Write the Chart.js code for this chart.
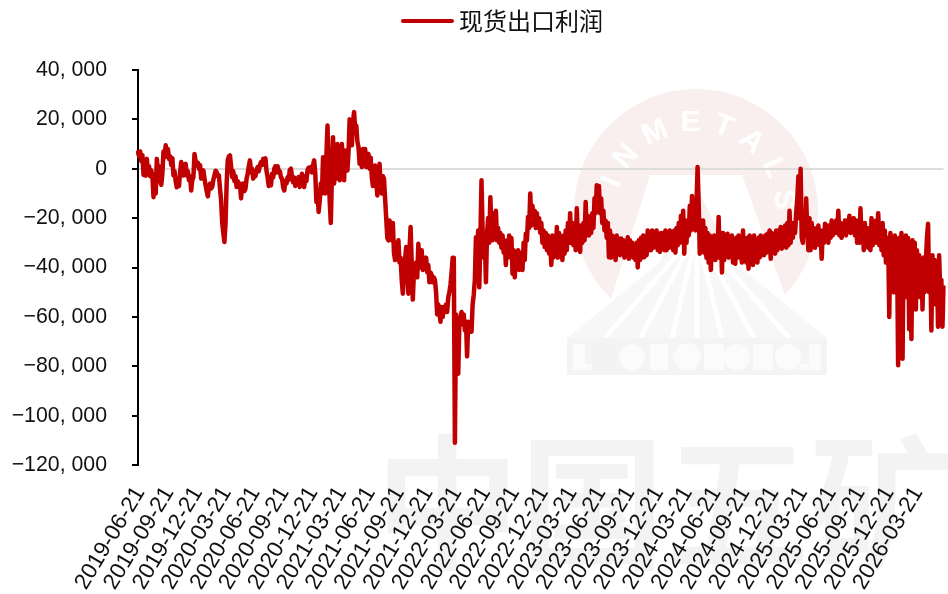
<!DOCTYPE html>
<html lang="zh">
<head>
<meta charset="utf-8">
<title>现货出口利润</title>
<script src="https://cdn.jsdelivr.net/npm/chart.js@4"></script>
<style>
html,body{margin:0;padding:0;background:#fff;}
#wrap{position:relative;width:948px;height:594px;overflow:hidden;}
#wm,#c{position:absolute;left:0;top:0;}
</style>
</head>
<body>
<div id="wrap">
<svg id="wm" width="948" height="594" viewBox="0 0 948 594">
  <circle cx="696" cy="211" r="122" fill="#F9EFEF"/>
  <polygon points="650,175 742,175 792,315 606,315" fill="#fff"/>
  <polygon points="697,188 738,270 656,270" fill="#F9EFEF"/>
  <path id="arc" d="M 626.7 251 A 80 80 0 1 1 765.3 251" fill="none"/>
  <text font-family="Liberation Sans" font-weight="700" font-size="30" fill="#fff" letter-spacing="11"><textPath href="#arc" startOffset="54.8%" text-anchor="middle">INMETALS</textPath></text>
  <polygon points="697,232 827,338 567,338" fill="#F7F7F7"/>
  <g stroke="#fff" stroke-width="5">
    <line x1="697" y1="232" x2="605" y2="338"/><line x1="697" y1="232" x2="640" y2="338"/>
    <line x1="697" y1="232" x2="672" y2="338"/><line x1="697" y1="232" x2="697" y2="338"/>
    <line x1="697" y1="232" x2="722" y2="338"/><line x1="697" y1="232" x2="754" y2="338"/>
    <line x1="697" y1="232" x2="789" y2="338"/>
  </g>
  <rect x="567" y="338" width="260" height="37" fill="#F4F4F4"/>
  <g fill="#FBFBFB">
    <path d="M573 344h12v20h10v6h-22z"/>
    <rect x="592" y="344" width="24" height="26" fill="#F1F1F1"/>
    <circle cx="632" cy="357" r="13"/>
    <rect x="650" y="344" width="18" height="26"/>
    <polygon points="672,357 680,344 694,344 702,357 694,370 680,370"/>
    <rect x="704" y="344" width="20" height="26"/>
    <circle cx="737" cy="357" r="13"/>
    <rect x="753" y="344" width="20" height="26"/>
    <circle cx="788" cy="357" r="13"/>
    <path d="M821 344h-12v20h-10v6h22z"/>
  </g>
  <text x="375" y="558" font-family="Noto Sans CJK SC" font-weight="700" font-size="145" fill="#F3F3F3">中国五矿</text>
</svg>
<canvas id="c" width="948" height="594"></canvas>
</div>
<script>
const seriesName = '现货出口利润';
const tickLabels = ['2019-06-21','2019-09-21','2019-12-21','2020-03-21','2020-06-21','2020-09-21','2020-12-21',
  '2021-03-21','2021-06-21','2021-09-21','2021-12-21','2022-03-21','2022-06-21','2022-09-21','2022-12-21',
  '2023-03-21','2023-06-21','2023-09-21','2023-12-21','2024-03-21','2024-06-21','2024-09-21','2024-12-21',
  '2025-03-21','2025-06-21','2025-09-21','2025-12-21','2026-03-21'];
const pointsPerTick = 26;
const profit = [
  6700,5000,7000,3000,5500,-2500,1000,-2800,4000,-1500,1000,-3000,-700,-2700,-11500,-6000,-10000,4000,-1500,1000,-5000,-6500,-2000,7000,4500,9500,
  5500,8000,4000,5000,1500,4300,-2700,-1000,-5000,-7500,-5500,-7000,-1500,2700,0,-2700,1500,2000,-2700,-1000,-4700,-3000,-8800,-4500,-3400,6000,
  3000,1300,2500,0,1500,-4000,-1500,-700,-4000,-6700,-9000,-11200,-7500,-6000,-8000,-7400,-4500,-2700,-800,-1300,-3000,-2700,-8000,-12800,-22000,-26000,
  -29700,-22000,-6000,3400,5000,5400,1000,-3400,-1000,-5000,-3000,-7400,-5000,-7000,-6000,-12000,-7000,-6000,-9000,-8000,-4000,-2000,1000,3400,-1500,0,
  -4000,-2000,-3000,-700,700,-1000,1500,2700,1500,4000,3000,4200,-1000,-3500,-7000,-5500,-6700,-2000,-3500,0,1000,-1500,1000,-800,-1000,-3500,
  -4000,-7500,-8800,-5000,-6000,-3500,-4500,-500,0,-3000,-5500,-3500,-7000,-4000,-5500,-3400,-7400,-4000,-2000,-6000,-7400,-3000,-5000,-500,400,-1000,
  700,-1500,1500,3400,-2000,-13500,-9000,-17500,-13000,-6000,-10000,4700,-4000,-10000,5000,17500,3000,-13000,-22000,-3000,12800,-6000,9000,-4000,10000,2000,
  -4700,3000,10000,2000,-4700,7400,3000,-700,7000,20000,12000,9500,19000,23000,16000,17500,11000,8800,2000,6000,700,8000,2500,8000,700,5000,
  6000,0,4500,-3400,-7000,-2000,1300,-5000,-10800,-2000,2000,-7000,-10000,-3000,-4000,-12000,-20000,-28000,-29000,-21000,-24000,-29000,-22000,-34000,-37000,-30000,
  -34000,-29000,-38000,-36000,-45000,-50600,-41000,-37000,-31700,-42000,-50600,-33000,-23600,-38000,-53000,-42000,-44000,-38000,-44000,-30400,-38000,-40000,-33000,-41000,-36000,-39000,
  -36000,-42000,-39000,-46000,-42000,-43000,-46000,-44000,-45000,-50000,-59000,-55000,-58000,-62000,-56000,-60000,-56000,-58000,-55000,-58000,-52000,-50000,-47000,-42000,-36000,-36000,
  -111000,-59000,-72000,-83000,-63000,-60000,-58000,-63000,-59000,-65500,-62000,-76000,-62000,-66000,-63000,-66000,-55000,-51000,-45000,-27700,-36000,-25000,-48000,-28000,-4700,-25000,
  -36000,-28000,-46000,-26000,-20000,-30000,-11500,-25000,-29000,-18000,-28000,-17000,-29000,-24000,-30000,-26000,-32000,-27000,-34000,-30000,-39000,-29000,-36000,-27000,-33000,-28000,
  -42500,-33000,-44000,-36000,-40000,-33000,-41000,-34000,-37000,-41000,-30000,-37000,-26300,-29000,-19500,-24000,-10000,-23000,-15000,-22000,-17000,-24000,-18000,-23000,-20000,-26000,
  -22000,-30000,-25000,-31700,-26000,-33000,-27000,-34400,-29000,-39000,-27000,-36000,-29000,-35000,-23600,-36000,-26000,-35000,-29000,-37000,-27000,-34400,-25000,-33000,-22000,-30000,
  -18000,-30000,-22000,-31000,-23000,-33000,-16000,-30000,-23000,-33700,-23000,-30000,-22000,-29000,-13500,-27000,-19000,-27000,-21000,-26000,-18000,-24000,-12000,-18000,-6700,-15000,
  -7000,-18000,-12000,-22000,-17000,-25000,-21000,-28000,-22000,-35800,-25000,-36000,-27000,-35000,-29000,-37000,-27000,-33000,-28300,-35000,-28300,-34400,-29000,-36000,-30000,-35000,
  -27700,-36500,-29000,-35000,-30000,-36000,-31000,-37000,-30000,-40000,-29000,-37000,-28000,-36000,-27000,-35800,-29000,-35000,-25000,-33000,-27000,-33000,-25000,-32000,-26300,-31000,
  -25000,-33000,-27000,-33700,-26000,-32000,-26000,-33000,-25000,-33000,-26000,-32000,-25000,-31700,-26000,-33000,-25000,-34000,-24000,-31000,-22000,-30000,-19000,-27000,-17000,-34400,
  -21000,-30000,-21000,-27000,-15000,-25000,-11000,-22000,-18000,-25000,-15000,700,-14000,-34400,-21000,-32000,-21000,-34000,-24000,-36000,-26000,-38000,-27000,-41000,-28000,-36000,
  -27000,-37000,-28000,-36000,-19500,-36000,-26000,-42000,-26000,-37000,-27000,-34000,-26300,-36000,-28000,-34400,-27000,-38000,-29000,-38500,-28000,-36000,-27000,-36000,-29000,-38000,
  -25000,-37000,-29000,-38000,-28000,-40500,-27000,-38000,-29000,-39000,-27000,-37000,-29000,-38000,-28000,-36000,-27000,-35000,-28000,-35000,-27000,-34000,-26300,-33000,-25000,-36500,
  -26000,-34000,-27000,-34400,-25000,-33000,-25000,-32000,-23600,-32400,-24000,-31000,-23000,-32000,-22000,-31000,-17000,-30000,-22000,-28000,-22000,-26000,-18000,-12000,-3000,-20000,
  0,-28000,-30000,-18000,-27000,-12000,-25000,-33000,-20000,-33000,-22000,-31700,-24000,-32000,-25600,-30000,-23000,-31000,-25000,-36500,-25000,-30000,-22300,-28000,-23000,-30000,
  -23000,-28000,-21000,-27000,-22000,-26000,-21000,-26000,-17000,-27000,-22000,-28000,-23000,-26000,-21000,-27000,-21000,-25000,-19000,-26000,-21000,-25000,-20000,-27000,-21000,-30000,
  -23000,-30000,-16000,-28000,-23000,-33000,-22000,-30000,-24000,-32000,-25000,-33000,-20000,-31000,-22000,-30000,-21000,-30000,-18000,-31000,-24000,-33000,-22000,-35000,-25000,-38000,
  -37800,-28000,-60000,-26000,-45000,-28000,-50000,-27000,-47000,-30000,-79600,-28000,-48000,-26000,-77000,-30000,-50000,-27000,-52000,-28000,-65000,-30000,-69000,-29000,-50000,-30000,
  -57000,-33000,-50000,-35000,-52000,-38000,-57000,-36000,-50000,-38000,-28000,-22300,-50000,-37000,-65500,-35000,-48000,-37000,-55000,-38000,-64000,-35000,-50000,-45000,-64000,-48000
];
const categories = tickLabels.flatMap(d => [d].concat(Array(pointsPerTick - 1).fill('')));

const RED = '#C00000';
const INK = '#111111';

const legendMark = document.createElement('canvas');
legendMark.width = 60; legendMark.height = 6;
(function(){
  const g = legendMark.getContext('2d');
  g.strokeStyle = RED; g.lineWidth = 4; g.lineCap = 'round';
  g.beginPath(); g.moveTo(9,3); g.lineTo(58,3); g.stroke();
})();

function fmtY(v){
  const a = Math.abs(v);
  if (a === 0) return '0';
  const s = a >= 1000 ? Math.floor(a/1000) + ', ' + String(a%1000).padStart(3,'0') : String(a);
  return (v < 0 ? '\u2212' : '') + s;
}

new Chart(document.getElementById('c'), {
  type: 'line',
  data: { labels: categories, datasets: [{
    label: seriesName, data: profit,
    borderColor: RED, backgroundColor: RED, borderWidth: 4.5,
    pointRadius: 0, tension: 0, borderJoinStyle: 'round', borderCapStyle: 'round'
  }]},
  options: {
    responsive: false, animation: false,
    layout: { padding: { top: 30, left: 0, right: 0, bottom: 0 } },
    plugins: {
      tooltip: { enabled: false },
      legend: {
        position: 'top', align: 'start',
        labels: {
          usePointStyle: true, pointStyle: legendMark, pointStyleWidth: 46,
          boxHeight: 6, padding: 6, color: INK,
          font: { family: '"Noto Sans CJK SC"', size: 24 }
        }
      }
    },
    scales: {
      x: {
        type: 'category', offset: false,
        grid: { display: false }, border: { display: false },
        afterFit: s => { s.height = 129; },
        ticks: {
          autoSkip: false, minRotation: 59, maxRotation: 59, padding: 9, labelOffset: 2, color: INK,
          font: { family: '"Liberation Sans"', size: 22.5 },
          callback: function(v, i){ return i % pointsPerTick === 0 ? categories[i] : null; }
        }
      },
      y: {
        min: -120000, max: 40000,
        afterFit: s => { s.width = 138; },
        border: { color: '#000', width: 2 },
        grid: {
          tickLength: 6, tickWidth: 2, tickColor: '#000', lineWidth: 2,
          color: c => (c.tick && c.tick.value === 0 ? '#DCDCDC' : 'rgba(0,0,0,0)')
        },
        ticks: {
          stepSize: 20000, padding: 25, color: INK,
          font: { family: '"Liberation Sans"', size: 21.3 },
          callback: v => fmtY(v)
        }
      }
    }
  },
  plugins: [{
    id: 'legendPlace',
    beforeDraw(chart){ chart.legend.left = 395; chart.legend.top = 3; }
  }]
});
</script>
</body>
</html>
